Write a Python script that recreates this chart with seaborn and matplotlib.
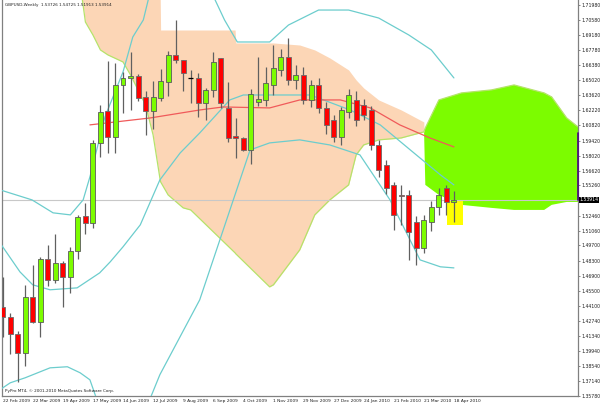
import matplotlib
matplotlib.use("Agg")
import matplotlib.pyplot as plt
from matplotlib.patches import Rectangle
import seaborn as sns
import pandas as pd
import numpy as np

# weekly GBPUSD candles, 22 Feb 2009 .. 18 Apr 2010
opens = [1.4401, 1.4309, 1.4151, 1.3975, 1.4494, 1.4262, 1.4846, 1.4651, 1.4809, 1.4679,
         1.4920, 1.5244, 1.5179, 1.5920, 1.6216, 1.5975, 1.6457, 1.6522, 1.6540, 1.6346,
         1.6216, 1.6337, 1.6485, 1.6735, 1.6688, 1.6522, 1.6522, 1.6290, 1.6411, 1.6707,
         1.6244, 1.5984, 1.5966, 1.5855, 1.6299, 1.6318, 1.6457, 1.6596, 1.6716, 1.6503,
         1.6550, 1.6318, 1.6457, 1.6244, 1.6133, 1.5975, 1.6207, 1.6318, 1.6272, 1.6225,
         1.5901, 1.5716, 1.5531, 1.5438, 1.5438, 1.5188, 1.4948, 1.5188, 1.5330, 1.5503,
         1.53726]
highs = [1.4679, 1.4346, 1.4180, 1.4605, 1.4790, 1.4864, 1.4975, 1.5077, 1.4830, 1.4957,
         1.5253, 1.5364, 1.5948, 1.6272, 1.6679, 1.6661, 1.6577, 1.6762, 1.6559, 1.6401,
         1.6494, 1.6605, 1.6772, 1.7059, 1.6690, 1.6596, 1.6568, 1.6429, 1.6762, 1.6710,
         1.6485, 1.6151, 1.5975, 1.6420, 1.6716, 1.6624, 1.6827, 1.6790, 1.6892, 1.6640,
         1.6620, 1.6500, 1.6520, 1.6300, 1.6180, 1.6250, 1.6420, 1.6400, 1.6330, 1.6260,
         1.5950, 1.5760, 1.5560, 1.5531, 1.5480, 1.5240, 1.5250, 1.5380, 1.5500, 1.5530,
         1.54725]
lows = [1.4123, 1.3966, 1.3707, 1.3855, 1.4250, 1.4123, 1.4596, 1.4623, 1.4401, 1.4531,
        1.4846, 1.5077, 1.5133, 1.5790, 1.5827, 1.5827, 1.6198, 1.6225, 1.6309, 1.5994,
        1.6049, 1.6309, 1.6355, 1.6661, 1.6401, 1.6290, 1.6161, 1.6133, 1.6346, 1.6244,
        1.5929, 1.5781, 1.5846, 1.5725, 1.6262, 1.6262, 1.6364, 1.6540, 1.6457, 1.6420,
        1.6280, 1.6250, 1.6200, 1.6000, 1.5930, 1.5900, 1.6150, 1.6080, 1.6130, 1.5850,
        1.5600, 1.5450, 1.5114, 1.5160, 1.4836, 1.4790, 1.4900, 1.5100, 1.5250, 1.5250,
        1.51913]
closes = [1.4309, 1.4151, 1.3975, 1.4494, 1.4262, 1.4846, 1.4651, 1.4809, 1.4679, 1.4920,
          1.5235, 1.5179, 1.5920, 1.6207, 1.5975, 1.6457, 1.6522, 1.6540, 1.6337, 1.6216,
          1.6346, 1.6494, 1.6735, 1.6688, 1.6568, 1.6522, 1.6290, 1.6411, 1.6670, 1.6290,
          1.5966, 1.5966, 1.5855, 1.6374, 1.6327, 1.6475, 1.6614, 1.6716, 1.6503, 1.6550,
          1.6318, 1.6457, 1.6244, 1.6087, 1.5975, 1.6225, 1.6364, 1.6133, 1.6179, 1.5901,
          1.5670, 1.5503, 1.5253, 1.5430, 1.5096, 1.4948, 1.5207, 1.5330, 1.5440, 1.53726,
          1.53914]

date_labels = ["22 Feb 2009", "22 Mar 2009", "19 Apr 2009", "17 May 2009", "14 Jun 2009",
               "12 Jul 2009", "9 Aug 2009", "6 Sep 2009", "4 Oct 2009", "1 Nov 2009",
               "29 Nov 2009", "27 Dec 2009", "24 Jan 2010", "21 Feb 2010", "21 Mar 2010",
               "18 Apr 2010"]
price_ticks = [1.71980, 1.70580, 1.69180, 1.67780, 1.66380, 1.65020, 1.63620, 1.62220,
               1.60820, 1.59420, 1.58020, 1.56620, 1.55260, 1.53860, 1.52460, 1.51060,
               1.49700, 1.48300, 1.46900, 1.45500, 1.44100, 1.42740, 1.41340, 1.39940,
               1.38540, 1.37140, 1.35780]

# ichimoku cloud (senkou span A / B), bar index -> price
cloud_i = [10, 10.6, 11, 12, 13, 14, 16, 17, 18, 19, 20, 20.9, 21, 22, 24, 25, 30.9, 31,
           35.5, 36, 39.5, 41.5, 43.5, 46, 47, 48, 50, 53, 56, 56.2, 58, 61, 65, 68, 72,
           73, 75, 76.5]
span_a = [1.7614, 1.7244, 1.7040, 1.6920, 1.6781, 1.6735, 1.6670, 1.6550, 1.6411, 1.6272,
          1.5994, 1.5596, 1.5559, 1.5438, 1.5318, 1.5299, 1.4901, 1.4892, 1.4586, 1.4605,
          1.4929, 1.5253, 1.5392, 1.5531, 1.5809, 1.5901, 1.5948, 1.5966, 1.6022, 1.6059,
          1.6318, 1.6383, 1.6411, 1.6457, 1.6383, 1.6346, 1.6151, 1.6068]
span_b = [1.7522, 1.7522, 1.7522, 1.7522, 1.7522, 1.7522, 1.7522, 1.7522, 1.7522, 1.7522,
          1.7522, 1.7522, 1.6966, 1.6966, 1.6966, 1.6966, 1.6966, 1.6846, 1.6846, 1.6846,
          1.6827, 1.6781, 1.6707, 1.6596, 1.6503, 1.6429, 1.6318, 1.6225, 1.6114, 1.5531,
          1.5438, 1.5346, 1.5318, 1.5299, 1.5299, 1.5346, 1.5373, 1.5373]

# bollinger bands
bb_up_i = [-0.36, 3.9, 6.7, 9, 10.7, 11.6, 13.6, 16, 17.3, 18.7, 20, 25, 27, 29.5, 31.2,
           35.5, 38, 42, 46, 50, 54, 57, 60]
bb_up = [1.5485, 1.5392, 1.5272, 1.5253, 1.5392, 1.5605, 1.6161, 1.6577, 1.6901, 1.7059,
         1.7429, 1.7707, 1.7429, 1.7059, 1.6855, 1.6855, 1.7012, 1.7151, 1.7151, 1.7077,
         1.6920, 1.6781, 1.6522]
bb_mid_i = [-0.36, 2.3, 4, 6.3, 9.9, 12.9, 14.3, 16, 18.3, 20.9, 23.6, 26.2, 30.2, 32,
            35.5, 40.9, 46.2, 50.2, 54.2, 58.2, 60]
bb_mid = [1.4994, 1.4725, 1.4605, 1.4559, 1.4577, 1.4716, 1.4818, 1.4957, 1.5161, 1.5577,
          1.5827, 1.6012, 1.6318, 1.6364, 1.6364, 1.6364, 1.6225, 1.6087, 1.5855, 1.5624,
          1.5531]
bb_low_i = [-0.36, 1, 3, 6.3, 8.6, 10.3, 11.6, 13, 19, 20.9, 26.2, 32.9, 35.5, 39.5, 43.5,
            47.5, 51.5, 55.5, 58.2, 60]
bb_low = [1.3633, 1.3697, 1.3744, 1.3836, 1.3846, 1.3790, 1.3725, 1.3447, 1.3447, 1.3772,
          1.4466, 1.5855, 1.5920, 1.5948, 1.5901, 1.5809, 1.5392, 1.4836, 1.4772, 1.4762]

# moving average
ma_i = [11.6, 19.6, 26.2, 29.3, 35.5, 39.5, 44.9, 48.9, 52.8, 56.8, 60]
ma = [1.6087, 1.6151, 1.6225, 1.6253, 1.6244, 1.6318, 1.6318, 1.6244, 1.6087, 1.5966,
      1.5883]

bid = 1.53914

sns.set_style("white")
plt.rcParams["font.family"] = ["DejaVu Sans"]

fig = plt.figure(figsize=(6.0, 4.04), dpi=100)
ax = fig.add_axes([2 / 600, 1 - 396 / 404, 576 / 600, 396 / 404])

df = pd.DataFrame({"o": opens, "h": highs, "l": lows, "c": closes})
df["i"] = np.arange(len(df))
up = df[df.c > df.o]
dn = df[df.c < df.o]
dj = df[df.c == df.o]

# cloud
ca = np.array(span_a)
cb = np.array(span_b)
ax.fill_between(cloud_i, ca, cb, where=ca >= cb, interpolate=True,
                color="#7CFC00", lw=0, zorder=1)
ax.fill_between(cloud_i, ca, cb, where=ca < cb, interpolate=True,
                color="#FCD6B6", lw=0, zorder=1)
ax.plot(cloud_i, span_a, color="#B5E36A", lw=0.9, zorder=2)

# yellow box around the current bar
ax.add_patch(Rectangle((59.1, 1.5160), 2.1, 0.0232, color="#FFFF00", lw=0, zorder=2))

# bid line
ax.axhline(bid, color="#C8C8C8", lw=0.8, zorder=2)

# bands and ma
sns.lineplot(x=bb_up_i, y=bb_up, ax=ax, color="#6CCDCD", lw=0.9, zorder=3)
sns.lineplot(x=bb_mid_i, y=bb_mid, ax=ax, color="#6CCDCD", lw=0.9, zorder=3)
sns.lineplot(x=bb_low_i, y=bb_low, ax=ax, color="#6CCDCD", lw=0.9, zorder=3)
sns.lineplot(x=ma_i, y=ma, ax=ax, color="#F05A5A", lw=0.9, zorder=3)

# candles
ax.vlines(df.i, df.l, df.h, color="#606060", lw=0.9, zorder=4)
ax.bar(up.i, up.c - up.o, bottom=up.o, width=0.66, color="#7CFC00",
       edgecolor="#5A5A5A", lw=0.6, zorder=5)
ax.bar(dn.i, dn.o - dn.c, bottom=dn.c, width=0.66, color="#FF0000",
       edgecolor="#6A6A6A", lw=0.6, zorder=5)
ax.hlines(dj.o, dj.i - 0.33, dj.i + 0.33, color="black", lw=0.9, zorder=5)

ax.set_xlim(-0.09, 76.5)
ax.set_ylim(1.3575, 1.7244)

ax.set_xticks(np.arange(0, 64, 4))
ax.set_xticklabels(date_labels, fontsize=3.2, ha="left")
ax.set_yticks(price_ticks)
# the bid box covers the label nearest the bid
ylabs = ["" if abs(p - bid) < 0.005 else f"{p:.5f}" for p in price_ticks]
ax.set_yticklabels(ylabs, fontsize=3.3)
ax.yaxis.tick_right()
ax.tick_params(axis="both", length=1.6, width=0.6, color="#707070", pad=0.8,
               labelcolor="#202020")
for s in ax.spines.values():
    s.set_color("#808080")
    s.set_linewidth(0.9)
ax.spines["top"].set_visible(False)

# bid label on price scale
ax.text(1.003, bid, f"{bid:.5f}", transform=ax.get_yaxis_transform(),
        fontsize=3.3, color="white", va="center", ha="left",
        bbox=dict(boxstyle="square,pad=0.15", fc="black", ec="none"))
ax.plot([1.0, 1.0], [bid, 1.6012], transform=ax.get_yaxis_transform(),
        color="#4B0082", lw=1.2, clip_on=False, zorder=6)

ax.text(0.005, 0.993, "GBPUSD,Weekly  1.53726 1.54725 1.51913 1.53914",
        transform=ax.transAxes, fontsize=3.0, va="top", ha="left", color="#202020")
ax.text(0.005, 0.008, "PyPro MT4, \u00a9 2001-2010 MetaQuotes Software Corp.",
        transform=ax.transAxes, fontsize=3.0, va="bottom", ha="left", color="#202020")

fig.savefig("out.png", dpi=100)
